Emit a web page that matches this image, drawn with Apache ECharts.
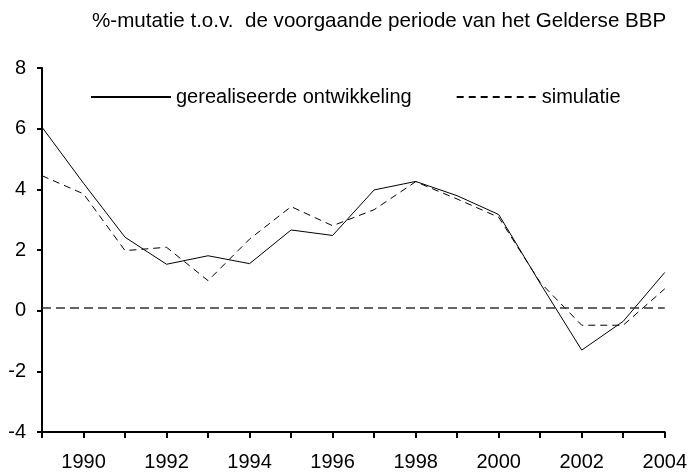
<!DOCTYPE html>
<html>
<head>
<meta charset="utf-8">
<script src="https://cdn.jsdelivr.net/npm/echarts@6/dist/echarts.min.js"></script>
<style>
  html, body { margin: 0; padding: 0; background: #fff; }
  #chart { width: 690px; height: 472px; }
</style>
</head>
<body>
<div id="chart"></div>
<script>
// jaren en waarden
const years = ['1989', '1990', '1991', '1992', '1993', '1994', '1995', '1996', '1997', '1998', '1999', '2000', '2001', '2002', '2003', '2004']
const gerealiseerd = [6.05, 4.2, 2.42, 1.53, 1.81, 1.55, 2.66, 2.48, 3.98, 4.26, 3.79, 3.17, 0.9, -1.3, -0.35, 1.26]
const simulatie = [4.45, 3.85, 1.98, 2.09, 0.99, 2.36, 3.43, 2.8, 3.33, 4.25, 3.68, 3.08, 0.93, -0.48, -0.48, 0.72]
const nullijn = 0.11
const yTicks = { min: -4, max: 8, interval: 2 }

const font = '"Liberation Sans", Arial, sans-serif'

const chart = echarts.init(document.getElementById('chart'))
chart.setOption({
  animation: false,
  title: {
    text: '%-mutatie t.o.v.  de voorgaande periode van het Gelderse BBP',
    left: 92,
    top: 11,
    padding: 0,
    textStyle: { fontSize: 20.6, fontWeight: 'normal', color: '#000', fontFamily: font }
  },
  legend: {
    left: 90,
    top: 87,
    padding: 0,
    itemWidth: 80,
    itemHeight: 16,
    itemGap: 44,
    itemStyle: { opacity: 0 },
    textStyle: { fontSize: 20, color: '#000', fontFamily: font },
    data: ['gerealiseerde ontwikkeling', 'simulatie']
  },
  grid: { left: 42, right: 24, top: 68, bottom: 40 },
  xAxis: {
    type: 'category',
    data: years,
    boundaryGap: false,
    axisLine: { onZero: false, lineStyle: { color: '#000', width: 2 } },
    axisTick: { interval: 0, length: 6, lineStyle: { color: '#000', width: 2 } },
    axisLabel: {
      interval: (index) => index % 2 === 1,
      margin: 20,
      fontSize: 20,
      color: '#000',
      fontFamily: font
    },
    splitLine: { show: false }
  },
  yAxis: {
    type: 'value',
    min: yTicks.min,
    max: yTicks.max,
    interval: yTicks.interval,
    axisLine: { show: true, lineStyle: { color: '#000', width: 2 } },
    axisTick: { show: true, length: 5, lineStyle: { color: '#000', width: 2 } },
    axisLabel: { margin: 16, fontSize: 20, color: '#000', fontFamily: font },
    splitLine: { show: false }
  },
  series: [
    {
      name: 'gerealiseerde ontwikkeling',
      type: 'line',
      data: gerealiseerd,
      symbol: 'none',
      lineStyle: { color: '#000', width: 1 },
      itemStyle: { color: '#000' }
    },
    {
      name: 'simulatie',
      type: 'line',
      data: simulatie,
      symbol: 'none',
      lineStyle: { color: '#000', width: 1, type: [7, 5] },
      itemStyle: { color: '#000' },
      markLine: {
        silent: true,
        symbol: 'none',
        label: { show: false },
        lineStyle: { color: '#333', width: 1.6, type: [9, 5] },
        data: [{ yAxis: nullijn }]
      }
    }
  ]
})
</script>
</body>
</html>
